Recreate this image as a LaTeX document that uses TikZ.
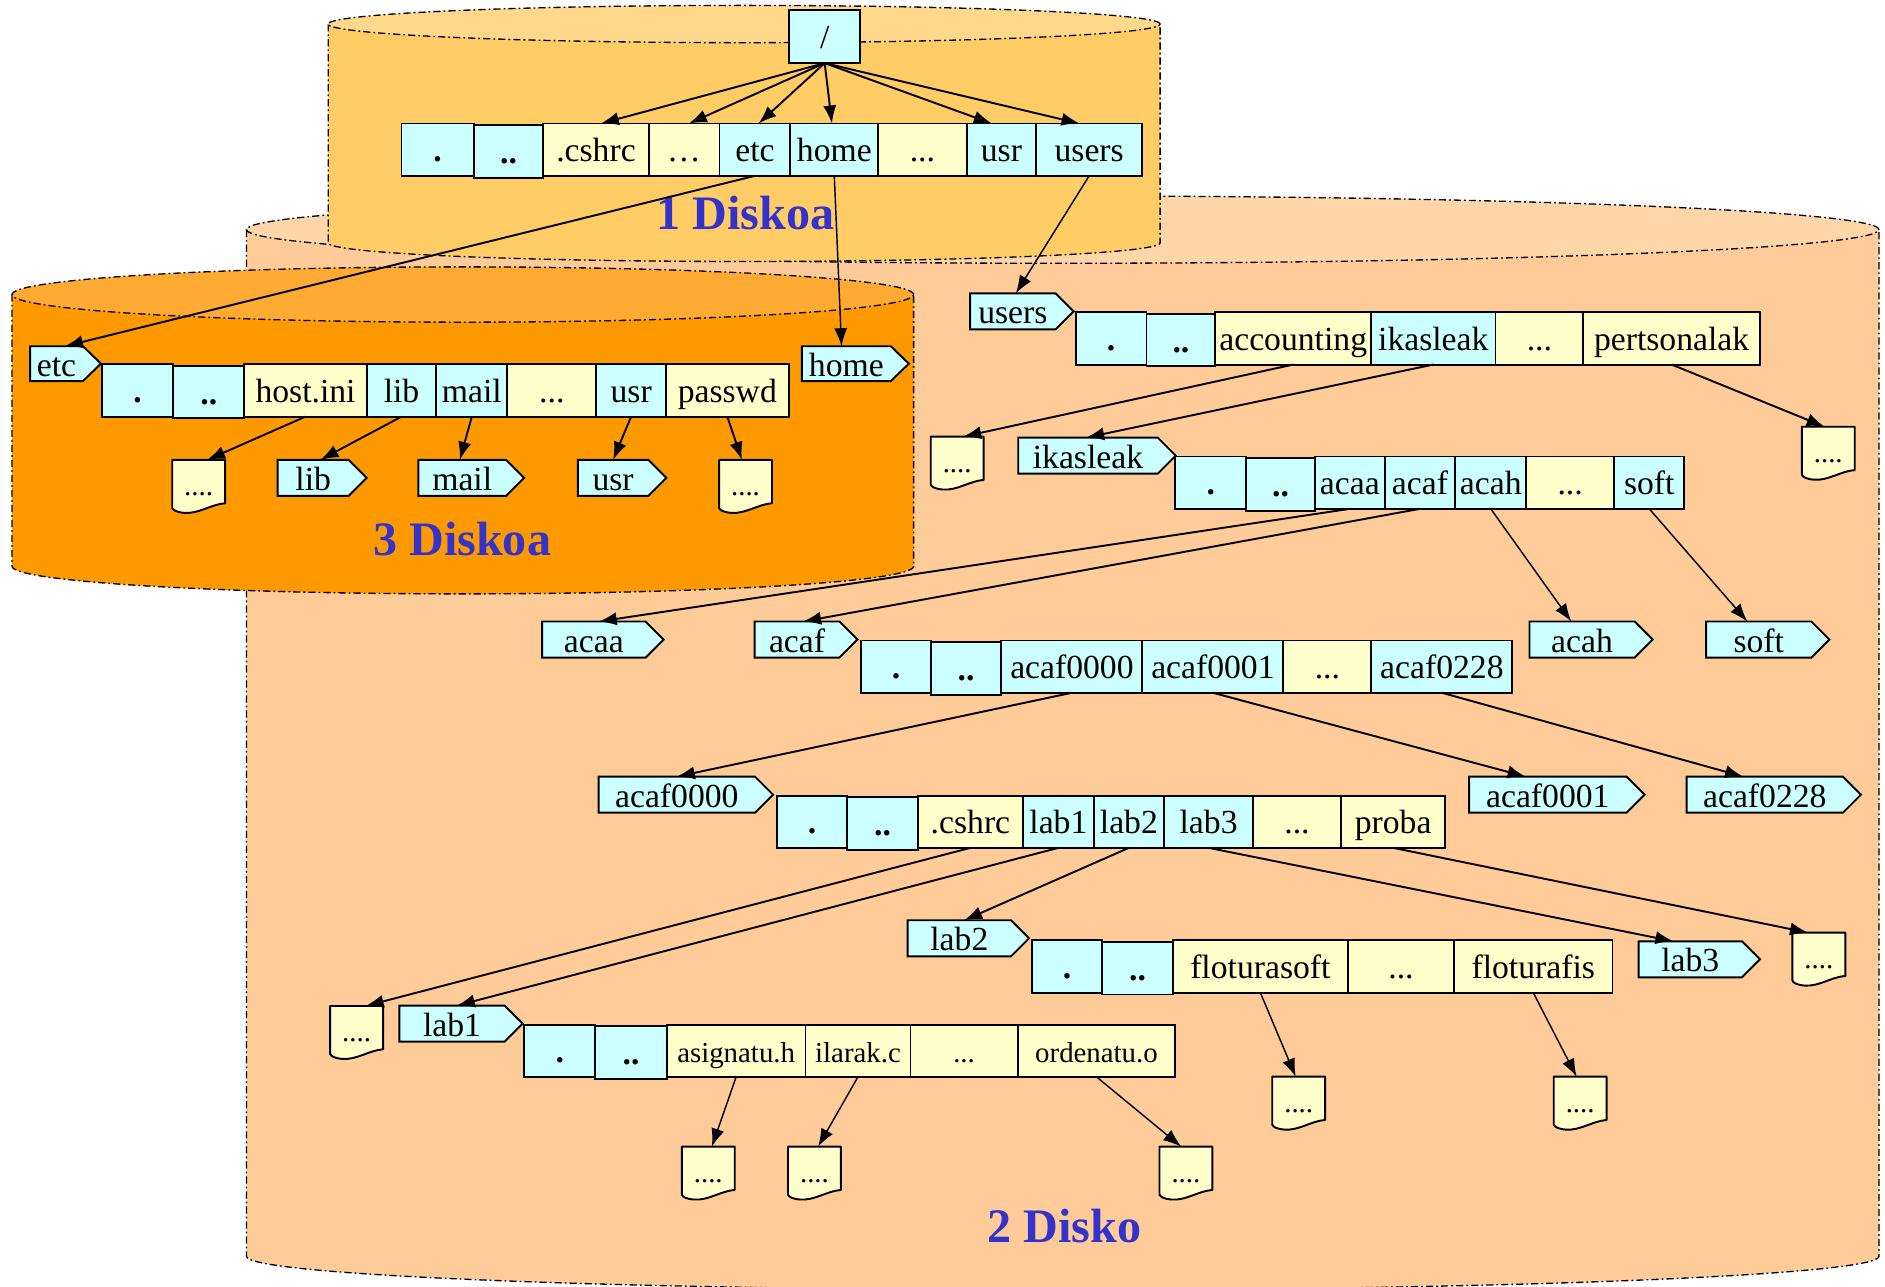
\documentclass[tikz,border=0pt]{standalone}
\usepackage{fontspec}
\setmainfont{Liberation Serif}
\usetikzlibrary{arrows.meta}
\definecolor{cy}{HTML}{CCFFFF}
\definecolor{ye}{HTML}{FFFFCC}
\definecolor{dAbody}{HTML}{FFCC66}
\definecolor{dAtop}{HTML}{FFD88C}
\definecolor{dBbody}{HTML}{FFCC99}
\definecolor{dBtop}{HTML}{FFD6AA}
\definecolor{dCbody}{HTML}{FF9900}
\definecolor{dCtop}{HTML}{FFAA33}
\definecolor{diskblue}{HTML}{3333CC}
\newcommand\tagdeco[1]{%
  \fill[cy] ([xshift=-1.5pt]#1.north east) -- (#1.north east) -- ([xshift=15pt]#1.east) -- (#1.south east) -- ([xshift=-1.5pt]#1.south east) -- cycle;
  \draw[line width=1.6pt, line join=miter] (#1.north west) -- (#1.north east) -- ([xshift=15pt]#1.east) -- (#1.south east) -- (#1.south west) -- cycle;}
\newcommand\docdeco[1]{%
  \fill[ye] (#1.south east) .. controls ([xshift=-12pt,yshift=-1pt]#1.south east) and ([xshift=22pt,yshift=-9pt]#1.south west) .. ([xshift=10pt,yshift=-8pt]#1.south west) .. controls ([xshift=4pt,yshift=-7.5pt]#1.south west) and ([xshift=1pt,yshift=-6pt]#1.south west) .. ([yshift=-4pt]#1.south west) -- ([yshift=1pt]#1.south west) -- ([yshift=1pt]#1.south east) -- cycle;
  \draw[line width=1.6pt, line join=round] (#1.south east) .. controls ([xshift=-12pt,yshift=-1pt]#1.south east) and ([xshift=22pt,yshift=-9pt]#1.south west) .. ([xshift=10pt,yshift=-8pt]#1.south west) .. controls ([xshift=4pt,yshift=-7.5pt]#1.south west) and ([xshift=1pt,yshift=-6pt]#1.south west) .. ([yshift=-4pt]#1.south west) -- (#1.north west) -- (#1.north east) -- cycle;}
\begin{document}
\begin{tikzpicture}[x=1pt,y=-1pt,
  cellbase/.style={draw, line width=1.6pt, rectangle, inner sep=0pt, outer sep=0pt, minimum height=43.5pt, font=\fontsize{28}{30}\selectfont, text height=20pt, text depth=0pt, anchor=west},
  cC/.style={cellbase, fill=cy},
  cY/.style={cellbase, fill=ye},
  small/.style={font=\fontsize{24}{26}\selectfont},
  tagbox/.style={rectangle, fill=cy, inner sep=0pt, outer sep=0pt, minimum height=30pt, font=\fontsize{28}{30}\selectfont, text height=21pt, text depth=0pt},
  docbox/.style={rectangle, fill=ye, inner sep=0pt, outer sep=0pt, minimum width=44pt, minimum height=36pt, font=\fontsize{24}{26}\selectfont, text height=23pt, text depth=0pt},
  diskline/.style={line width=1.1pt, dash pattern=on 6pt off 2.5pt on 1.5pt off 2.5pt},
  disklabel/.style={font=\bfseries\fontsize{40}{44}\selectfont, text=diskblue},
  arr/.style={line width=1.6pt, -{Latex[length=15pt,width=11pt]}},
  arrthin/.style={line width=1.2pt, -{Latex[length=15pt,width=11pt]}}
]
\useasboundingbox (0,0) rectangle (1568,1070);
% ---- Disk 2 (back)
\fill[dBbody] (205,191) -- (205,1045) .. controls (205,1060.5) and (509,1073) .. (884,1073) .. controls (1259,1073) and (1563,1060.5) .. (1563,1045) -- (1563,191) -- cycle;
\draw[diskline] (205,191) -- (205,1045) .. controls (205,1060.5) and (509,1073) .. (884,1073) .. controls (1259,1073) and (1563,1060.5) .. (1563,1045) -- (1563,191);
\filldraw[diskline, fill=dBtop] (884,191) ellipse [x radius=679pt, y radius=28pt];
% ---- Disk 3
\fill[dCbody] (10,245) -- (10,471) .. controls (10,483.7) and (178,494) .. (385,494) .. controls (592,494) and (760,483.7) .. (760,471) -- (760,245) -- cycle;
\draw[diskline] (10,245) -- (10,471) .. controls (10,483.7) and (178,494) .. (385,494) .. controls (592,494) and (760,483.7) .. (760,471) -- (760,245);
\filldraw[diskline, fill=dCtop] (385,245) ellipse [x radius=375pt, y radius=23pt];
% ---- Disk 1
\fill[dAbody] (273,20) -- (273,202) .. controls (273,210.6) and (428,217.5) .. (619,217.5) .. controls (810,217.5) and (965,210.6) .. (965,202) -- (965,20) -- cycle;
\draw[diskline] (273,20) -- (273,202) .. controls (273,210.6) and (428,217.5) .. (619,217.5) .. controls (810,217.5) and (965,210.6) .. (965,202) -- (965,20);
\filldraw[diskline, fill=dAtop] (619,20) ellipse [x radius=346pt, y radius=15.5pt];
% ---- disk labels
\node[disklabel] (lab1disk) at (620,177.5) {1 Diskoa};
\node[disklabel] (lab3disk) at (384.5,448) {3 Diskoa};
\node[disklabel] (lab2disk) at (885.6,1020) {2 Disko};
% ---- root
\node[cC, anchor=center, minimum width=59pt, minimum height=44pt] (root) at (686,30.5) {/};
% ---- row 1
\node[cC, minimum width=60pt] (aDot) at (334,124.5) {\textbf{.}};
\node[cC, minimum width=58pt, yshift=-1.5pt] (aDD) at (aDot.east) {\textbf{..}};
\node[cY, minimum width=87.5pt] (aCshrc) at ([yshift=1.5pt]aDD.east) {.cshrc};
\node[cY, minimum width=59pt] (aEll) at (aCshrc.east) {…};
\node[cC, minimum width=59pt] (aEtc) at (aEll.east) {etc};
\node[cC, minimum width=73pt] (aHome) at (aEtc.east) {home};
\node[cY, minimum width=73.5pt] (aDots) at (aHome.east) {...};
\node[cC, minimum width=58pt] (aUsr) at (aDots.east) {usr};
\node[cC, minimum width=88pt] (aUsers) at (aUsr.east) {users};
% ---- disk 3 row
\node[tagbox, minimum width=44pt, minimum height=29pt] (tEtc) at (47,302.5) {etc}; \tagdeco{tEtc}
\node[tagbox, minimum width=74pt, minimum height=29pt] (tHome) at (704,302.5) {home}; \tagdeco{tHome}
\node[cC, minimum width=59pt] (cDot) at (85,324.8) {\textbf{.}};
\node[cC, minimum width=59.3pt, yshift=-1.5pt] (cDD) at (cDot.east) {\textbf{..}};
\node[cY, minimum width=101.7pt] (cHost) at ([yshift=1.5pt]cDD.east) {host.ini};
\node[cC, minimum width=58pt] (cLib) at (cHost.east) {lib};
\node[cC, minimum width=59pt] (cMail) at (cLib.east) {mail};
\node[cY, minimum width=74pt] (cDots) at (cMail.east) {...};
\node[cC, minimum width=58pt] (cUsr) at (cDots.east) {usr};
\node[cY, minimum width=102pt] (cPasswd) at (cUsr.east) {passwd};
\node[docbox] (dHost) at (165.25,400.6) {....}; \docdeco{dHost}
\node[tagbox, minimum width=59pt] (tLib) at (260.5,397.5) {lib}; \tagdeco{tLib}
\node[tagbox, minimum width=73pt] (tMail) at (384.5,397.5) {mail}; \tagdeco{tMail}
\node[tagbox, minimum width=58.5pt] (tUsr) at (510,397.5) {usr}; \tagdeco{tUsr}
\node[docbox] (dPasswd) at (620.15,400.6) {....}; \docdeco{dPasswd}
% ---- users row
\node[tagbox, minimum width=71pt] (tUsers) at (842.5,259) {users}; \tagdeco{tUsers}
\node[cC, minimum width=58.9pt] (uDot) at (894.8,281.5) {\textbf{.}};
\node[cC, minimum width=57.3pt, yshift=-1.5pt] (uDD) at (uDot.east) {\textbf{..}};
\node[cY, minimum width=129.5pt] (uAcc) at ([yshift=1.5pt]uDD.east) {accounting};
\node[cC, minimum width=103.5pt] (uIk) at (uAcc.east) {ikasleak};
\node[cY, minimum width=73pt] (uDots) at (uIk.east) {...};
\node[cY, minimum width=147pt] (uPer) at (uDots.east) {pertsonalak};
\node[docbox] (dAcc) at (796.2,381.2) {....}; \docdeco{dAcc}
\node[docbox] (dPer) at (1520.8,373) {....}; \docdeco{dPer}
% ---- ikasleak row
\node[tagbox, minimum width=116pt] (tIk) at (905,379) {ikasleak}; \tagdeco{tIk}
\node[cC, minimum width=58.9pt] (iDot) at (977.7,401.5) {\textbf{.}};
\node[cC, minimum width=57.3pt, yshift=-1.5pt] (iDD) at (iDot.east) {\textbf{..}};
\node[cC, minimum width=57.8pt] (iAcaa) at ([yshift=1.5pt]iDD.east) {acaa};
\node[cC, minimum width=58.9pt] (iAcaf) at (iAcaa.east) {acaf};
\node[cC, minimum width=58.9pt] (iAcah) at (iAcaf.east) {acah};
\node[cY, minimum width=73.2pt] (iDots) at (iAcah.east) {...};
\node[cC, minimum width=58.4pt] (iSoft) at (iDots.east) {soft};
\node[tagbox, minimum width=86pt] (tAcaa) at (494,532) {acaa}; \tagdeco{tAcaa}
\node[tagbox, minimum width=70.5pt] (tAcaf) at (663,532) {acaf}; \tagdeco{tAcaf}
\node[tagbox, minimum width=87.5pt] (tAcah) at (1316,532) {acah}; \tagdeco{tAcah}
\node[tagbox, minimum width=87.5pt] (tSoft) at (1463,532) {soft}; \tagdeco{tSoft}
% ---- acaf row
\node[cC, minimum width=57.9pt] (fDot) at (716.4,554.5) {\textbf{.}};
\node[cC, minimum width=58.7pt, yshift=-1.5pt] (fDD) at (fDot.east) {\textbf{..}};
\node[cC, minimum width=117.3pt] (fA0) at ([yshift=1.5pt]fDD.east) {acaf0000};
\node[cC, minimum width=117.3pt] (fA1) at (fA0.east) {acaf0001};
\node[cY, minimum width=73.2pt] (fDots) at (fA1.east) {...};
\node[cC, minimum width=117.2pt] (fA228) at (fDots.east) {acaf0228};
\node[tagbox, minimum width=130pt] (tA0) at (563,661) {acaf0000}; \tagdeco{tA0}
\node[tagbox, minimum width=131pt] (tA1) at (1287.5,661) {acaf0001}; \tagdeco{tA1}
\node[tagbox, minimum width=130pt] (tA228) at (1468,661) {acaf0228}; \tagdeco{tA228}
% ---- acaf0000 row
\node[cC, minimum width=58.6pt] (zDot) at (646.2,683.5) {\textbf{.}};
\node[cC, minimum width=58.6pt, yshift=-1.5pt] (zDD) at (zDot.east) {\textbf{..}};
\node[cY, minimum width=87.7pt] (zCshrc) at ([yshift=1.5pt]zDD.east) {.cshrc};
\node[cC, minimum width=58.6pt] (zLab1) at (zCshrc.east) {lab1};
\node[cC, minimum width=58.7pt] (zLab2) at (zLab1.east) {lab2};
\node[cC, minimum width=73.9pt] (zLab3) at (zLab2.east) {lab3};
\node[cY, minimum width=73.1pt] (zDots) at (zLab3.east) {...};
\node[cY, minimum width=86.9pt] (zProba) at (zDots.east) {proba};
% ---- lab2 row
\node[tagbox, minimum width=86pt] (tLab2) at (798,780.5) {lab2}; \tagdeco{tLab2}
\node[tagbox, minimum width=86pt] (tLab3) at (1406,798) {lab3}; \tagdeco{tLab3}
\node[docbox] (dProba) at (1513,793.8) {....}; \docdeco{dProba}
\node[cC, minimum width=58.6pt] (lDot) at (858.4,804) {\textbf{.}};
\node[cC, minimum width=58.6pt, yshift=-1.5pt] (lDD) at (lDot.east) {\textbf{..}};
\node[cY, minimum width=145.6pt] (lFs) at ([yshift=1.5pt]lDD.east) {floturasoft};
\node[cY, minimum width=88.3pt] (lDots) at (lFs.east) {...};
\node[cY, minimum width=131.8pt] (lFf) at (lDots.east) {floturafis};
\node[docbox] (dFs) at (1080.3,913.6) {....}; \docdeco{dFs}
\node[docbox] (dFf) at (1314.45,913.6) {....}; \docdeco{dFf}
% ---- lab1 row
\node[docbox] (dCshrc) at (296.65,854.8) {....}; \docdeco{dCshrc}
\node[tagbox, minimum width=87.5pt] (tLab1) at (376,851.5) {lab1}; \tagdeco{tLab1}
\node[cC, minimum width=58.9pt] (bDot) at (436.2,874) {\textbf{.}};
\node[cC, minimum width=59.6pt, yshift=-1.5pt] (bDD) at (bDot.east) {\textbf{..}};
\node[cY, small, minimum width=115.3pt] (bAs) at ([yshift=1.5pt]bDD.east) {asignatu.h};
\node[cY, small, minimum width=87.4pt] (bIl) at (bAs.east) {ilarak.c};
\node[cY, small, minimum width=89.1pt] (bDots) at (bIl.east) {...};
\node[cY, small, minimum width=131.2pt] (bOr) at (bDots.east) {ordenatu.o};
\node[docbox] (dAs) at (589.15,971.8) {....}; \docdeco{dAs}
\node[docbox] (dIl) at (677.5,971.8) {....}; \docdeco{dIl}
\node[docbox] (dOr) at (986.5,971.8) {....}; \docdeco{dOr}
% ---- connectors
\draw[arr] (root.south) -- ([xshift=4pt]aCshrc.north);
\draw[arr] (root.south) -- ([xshift=4pt]aEll.north);
\draw[arr] (root.south) -- ([xshift=3pt]aEtc.north);
\draw[arr] (root.south) -- ([xshift=-2pt]aHome.north);
\draw[arr] (root.south) -- ([xshift=-8pt]aUsr.north);
\draw[arr] (root.south) -- ([xshift=-8pt]aUsers.north);
\draw[arr] (aEtc.south) -- ([xshift=7pt]tEtc.north);
\draw[arrthin] (aHome.south) -- ([xshift=-4pt]tHome.north);
\draw[arrthin] (aUsers.south) -- ([xshift=2.5pt]tUsers.north);
\draw[arr] (cHost.south) -- ([xshift=7pt]dHost.north);
\draw[arr] (cLib.south) -- ([xshift=6pt]tLib.north);
\draw[arr] (cMail.south) -- ([xshift=-2pt]tMail.north);
\draw[arr] (cUsr.south) -- (tUsr.north);
\draw[arr] (cPasswd.south) -- ([xshift=-3pt]dPasswd.north);
\draw[arr] (uAcc.south) -- ([xshift=5pt]dAcc.north);
\draw[arr] (uIk.south) -- ([xshift=-1.5pt]tIk.north);
\draw[arr] (uPer.south) -- ([xshift=-3pt]dPer.north);
\draw[arr] (iAcaa.south) -- ([xshift=4pt]tAcaa.north);
\draw[arr] (iAcaf.south) -- ([xshift=5pt]tAcaf.north);
\draw[arrthin] (iAcah.south) -- ([xshift=-9pt]tAcah.north);
\draw[arrthin] (iSoft.south) -- ([xshift=-9.5pt]tSoft.north);
\draw[arr] (fA0.south) -- (tA0.north);
\draw[arr] (fA1.south) -- ([xshift=-18.5pt]tA1.north);
\draw[arr] (fA228.south) -- ([xshift=-18pt]tA228.north);
\draw[arr] (zCshrc.south) -- ([xshift=7.5pt]dCshrc.north);
\draw[arr] (zLab1.south) -- ([xshift=4pt]tLab1.north);
\draw[arr] (zLab2.south) -- ([xshift=4pt]tLab2.north);
\draw[arr] (zLab3.south) -- ([xshift=-14pt]tLab3.north);
\draw[arr] (zProba.south) -- ([xshift=-9pt]dProba.north);
\draw[arrthin] (lFs.south) -- ([xshift=-2.5pt]dFs.north);
\draw[arrthin] (lFf.south) -- ([xshift=-3pt]dFf.north);
\draw[arrthin] (bAs.south) -- ([xshift=3pt]dAs.north);
\draw[arrthin] (bIl.south) -- ([xshift=3pt]dIl.north);
\draw[arrthin] (bOr.south) -- ([xshift=-4pt]dOr.north);
\end{tikzpicture}
\end{document}
